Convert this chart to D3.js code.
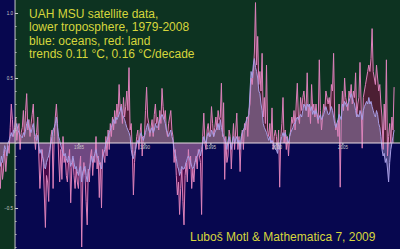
<!DOCTYPE html>
<html>
<head>
<meta charset="utf-8">
<script src="https://d3js.org/d3.v7.min.js"></script>
<style>
  body { margin: 0; background: #000; }
  svg { display: block; }
  text { font-family: "Liberation Sans", Arial, sans-serif; }
</style>
</head>
<body>
<svg id="chart" width="400" height="249"></svg>
<script>
// monthly anomalies (deg C), Jan 1979 .. Dec 2008
var land = [
  -0.25,-0.35,-0.15,-0.28,-0.20,-0.05,-0.22,-0.10,-0.02,-0.08, 0.12, 0.30, // 1979
   0.18, 0.05, 0.12, 0.20, 0.02, 0.10, 0.15,-0.05, 0.08, 0.12, 0.25, 0.05, // 1980
   0.25, 0.38, 0.10, 0.18, 0.05, 0.15, 0.22, 0.30, 0.05,-0.05, 0.08, 0.20, // 1981
  -0.10,-0.35,-0.20,-0.05,-0.15,-0.40,-0.65,-0.25,-0.30,-0.45,-0.10, 0.05, // 1982
   0.10,-0.35, 0.05, 0.20, 0.30, 0.15,-0.10,-0.30,-0.05,-0.28, 0.05,-0.15, // 1983
  -0.10,-0.25,-0.30,-0.15,-0.05,-0.46,-0.20,-0.12,-0.25,-0.35,-0.20,-0.30, // 1984
  -0.35,-0.20,-0.10,-0.80,-0.30,-0.15,-0.25,-0.45,-0.63,-0.20,-0.30,-0.10, // 1985
  -0.05,-0.25,-0.10,-0.15, 0.05,-0.20,-0.10,-0.42,-0.15,-0.50,-0.05,-0.10, // 1986
  -0.15, 0.05,-0.10, 0.10,-0.05, 0.15, 0.05, 0.20, 0.10, 0.25, 0.15, 0.30, // 1987
   0.20, 0.45, 0.25, 0.30, 0.15, 0.35, 0.20, 0.28, 0.40, 0.25, 0.58, 0.10, // 1988
   0.15,-0.05,-0.40,-0.15,-0.05, 0.05, 0.10,-0.05, 0.08, 0.15,-0.10, 0.05, // 1989
   0.05, 0.25, 0.43, 0.20, 0.15, 0.05, 0.12, 0.18, 0.05, 0.22, 0.30, 0.15, // 1990
   0.20, 0.10, 0.25, 0.15, 0.42, 0.28, 0.18, 0.25, 0.10, 0.05, 0.15, 0.20, // 1991
   0.25, 0.10, 0.05,-0.15,-0.05,-0.25,-0.40,-0.30,-0.55,-0.35,-0.20,-0.45, // 1992
  -0.63,-0.25,-0.15,-0.30,-0.05,-0.20,-0.10,-0.35,-0.20,-0.30,-0.15,-0.10, // 1993
  -0.20,-0.05,-0.10,-0.15,-0.55, 0.05, 0.23, 0.00,-0.05, 0.10, 0.15, 0.05, // 1994
   0.10, 0.28, 0.15, 0.05, 0.12, 0.20, 0.10, 0.25, 0.18, 0.20, 0.46, 0.05, // 1995
   0.31,-0.28, 0.05,-0.15,-0.10, 0.10, 0.05,-0.20, 0.00, 0.15,-0.05, 0.10, // 1996
   0.23,-0.05, 0.05,-0.22, 0.02, 0.10,-0.05, 0.15, 0.10, 0.20, 0.05, 0.25, // 1997
   0.30, 0.50, 0.45, 0.55, 0.70, 1.08, 0.60, 0.82, 0.45, 0.55, 0.40, 0.69, // 1998
   0.20, 0.35, 0.15, 0.60, 0.10, 0.05, 0.15, 0.00, 0.27,-0.05, 0.05, 0.10, // 1999
   0.05,-0.05, 0.10,-0.34, 0.05, 0.15, 0.35, 0.00, 0.10,-0.05, 0.05,-0.10, // 2000
   0.05, 0.10, 0.20, 0.15, 0.25, 0.10, 0.30, 0.46, 0.20, 0.15, 0.35, 0.25, // 2001
   0.35, 0.40, 0.30, 0.25, 0.54, 0.20, 0.30, 0.15, 0.45, 0.25, 0.30, 0.20, // 2002
   0.30, 0.20, 0.15, 0.64, 0.25, 0.10, 0.20, 0.30, 0.25, 0.40, 0.35, 0.30, // 2003
   0.35, 0.25, 0.45, 0.40, 0.69, 0.20, 0.10, 0.15, 0.05, 0.30,-0.34, 0.20, // 2004
   0.40, 0.25, 0.50, 0.35, 0.30, 0.25, 0.40, 0.35, 0.45, 0.30, 0.40, 0.35, // 2005
   0.54, 0.20, 0.30, 0.35, 0.62, 0.30,-0.04, 0.35, 0.40, 0.45, 0.50, 0.55, // 2006
   0.60, 0.55, 0.65, 0.88, 0.55, 0.50, 0.45, 0.60, 0.50, 0.40, 0.45, 0.30, // 2007
   0.20,-0.05, 0.30, 0.10, 0.64,-0.10, 0.05, 0.15, 0.00, 0.20, 0.10, 0.43  // 2008
];
var oceans = [
  -0.12,-0.18,-0.10,-0.15,-0.08,-0.02,-0.05,-0.10, 0.00, 0.02, 0.05, 0.08, // 1979
   0.05, 0.10, 0.08, 0.12, 0.15, 0.10, 0.08, 0.06, 0.05, 0.04, 0.08, 0.06, // 1980
   0.10, 0.15, 0.18, 0.12, 0.10, 0.08, 0.12, 0.15, 0.08, 0.05, 0.02, 0.06, // 1981
  -0.02,-0.08,-0.05,-0.10,-0.12,-0.18,-0.20,-0.15,-0.12,-0.10,-0.05, 0.00, // 1982
   0.05, 0.10, 0.12, 0.15, 0.20, 0.12, 0.05, 0.02,-0.02,-0.05,-0.08,-0.10, // 1983
  -0.08,-0.12,-0.15,-0.10,-0.12,-0.18,-0.15,-0.10,-0.15,-0.20,-0.18,-0.22, // 1984
  -0.25,-0.20,-0.18,-0.30,-0.22,-0.20,-0.18,-0.25,-0.30,-0.22,-0.20,-0.15, // 1985
  -0.10,-0.15,-0.12,-0.08,-0.05,-0.10,-0.12,-0.15,-0.18,-0.20,-0.10,-0.08, // 1986
  -0.05, 0.00, 0.02, 0.05, 0.08, 0.10, 0.12, 0.15, 0.18, 0.15, 0.20, 0.18, // 1987
   0.20, 0.22, 0.25, 0.28, 0.22, 0.20, 0.18, 0.15, 0.12, 0.10, 0.08, 0.05, // 1988
  -0.05,-0.10,-0.12,-0.08,-0.05, 0.00, 0.02, 0.00, 0.05, 0.08, 0.05, 0.02, // 1989
   0.05, 0.08, 0.12, 0.15, 0.10, 0.08, 0.10, 0.12, 0.08, 0.10, 0.15, 0.12, // 1990
   0.12, 0.15, 0.18, 0.20, 0.22, 0.20, 0.18, 0.15, 0.10, 0.08, 0.05, 0.08, // 1991
   0.10, 0.05, 0.02,-0.05,-0.08,-0.12,-0.18,-0.20,-0.25,-0.22,-0.18,-0.20, // 1992
  -0.20,-0.18,-0.15,-0.12,-0.10,-0.12,-0.15,-0.18,-0.20,-0.18,-0.15,-0.12, // 1993
  -0.10,-0.08,-0.05,-0.10,-0.05, 0.00, 0.05, 0.02, 0.00, 0.05, 0.08, 0.05, // 1994
   0.05, 0.10, 0.08, 0.05, 0.08, 0.10, 0.12, 0.15, 0.10, 0.18, 0.12, 0.08, // 1995
   0.05, 0.02, 0.00,-0.05, 0.02, 0.05, 0.00,-0.05, 0.02, 0.05, 0.00, 0.03, // 1996
   0.05, 0.00, 0.02,-0.05, 0.05, 0.08, 0.10, 0.12, 0.15, 0.18, 0.20, 0.22, // 1997
   0.40, 0.55, 0.50, 0.60, 0.65, 0.58, 0.55, 0.50, 0.40, 0.38, 0.30, 0.25, // 1998
   0.15, 0.12, 0.10, 0.08, 0.05, 0.02, 0.05, 0.00, 0.02, 0.00,-0.02,-0.05, // 1999
  -0.05,-0.08, 0.00,-0.05, 0.02, 0.05, 0.08, 0.05, 0.08, 0.05, 0.02, 0.00, // 2000
   0.05, 0.08, 0.10, 0.12, 0.15, 0.15, 0.18, 0.20, 0.18, 0.20, 0.22, 0.20, // 2001
   0.25, 0.30, 0.28, 0.25, 0.30, 0.28, 0.30, 0.25, 0.28, 0.22, 0.25, 0.22, // 2002
   0.25, 0.22, 0.18, 0.20, 0.22, 0.18, 0.20, 0.22, 0.25, 0.28, 0.25, 0.22, // 2003
   0.22, 0.25, 0.28, 0.25, 0.20, 0.15, 0.12, 0.15, 0.18, 0.22, 0.20, 0.18, // 2004
   0.30, 0.28, 0.32, 0.30, 0.28, 0.30, 0.32, 0.35, 0.38, 0.35, 0.32, 0.30, // 2005
   0.25, 0.20, 0.22, 0.20, 0.25, 0.22, 0.18, 0.25, 0.28, 0.30, 0.32, 0.30, // 2006
   0.35, 0.30, 0.32, 0.28, 0.25, 0.22, 0.20, 0.25, 0.22, 0.15, 0.12, 0.05, // 2007
  -0.05,-0.10,-0.08,-0.15,-0.12,-0.20,-0.30,-0.15,-0.05, 0.00, 0.05, 0.10  // 2008
];
var startYear = 1979;
var yearTicks = [1985, 1990, 1995, 2000, 2005];
var yMajorTicks = [-0.5, 0.5, 1.0];
var titleLines = [
  "UAH MSU satellite data,",
  "lower troposphere, 1979-2008",
  "blue: oceans, red: land",
  "trends 0.11 \u00b0C, 0.16 \u00b0C/decade"
];
var credit = "Lubo\u0161 Motl & Mathematica 7, 2009";

var svg = d3.select("#chart");
var W = 400, H = 249;

var x = d3.scaleLinear().domain([1979, 2009]).range([-0.8, 395.2]);
var y = d3.scaleLinear().domain([-1, 1]).range([143 + 130, 143 - 130]);
var axisX = x(1980.2), zeroY = y(0);

var green = "#0d3321", blue = "#07074f";

// background: swapped colours left of the vertical axis
svg.append("rect").attr("x", 0).attr("y", 0).attr("width", axisX).attr("height", zeroY).attr("fill", blue);
svg.append("rect").attr("x", 0).attr("y", zeroY).attr("width", axisX).attr("height", H - zeroY).attr("fill", green);
svg.append("rect").attr("x", axisX).attr("y", 0).attr("width", W - axisX).attr("height", zeroY).attr("fill", green);
svg.append("rect").attr("x", axisX).attr("y", zeroY).attr("width", W - axisX).attr("height", H - zeroY).attr("fill", blue);

var t = (d, i) => x(startYear + i / 12);
var area = d3.area().x(t).y0(zeroY).y1(d => y(d));
var line = d3.line().x(t).y(d => y(d));

svg.append("path").attr("d", area(land)).attr("fill", "rgb(140,12,70)").attr("fill-opacity", 0.5);
svg.append("path").attr("d", area(oceans)).attr("fill", "rgb(150,135,185)").attr("fill-opacity", 0.5);
svg.append("path").attr("d", line(land)).attr("fill", "none").attr("stroke", "#dc82bb").attr("stroke-width", 1);
svg.append("path").attr("d", line(oceans)).attr("fill", "none").attr("stroke", "#a89ee6").attr("stroke-width", 1);

// zero line across everything
svg.append("line").attr("x1", 0).attr("x2", W).attr("y1", zeroY).attr("y2", zeroY)
  .attr("stroke", "#eadbe4").attr("stroke-width", 1);

// x axis ticks along the zero line
var xAxis = svg.append("g").attr("transform", "translate(0," + zeroY + ")")
  .call(d3.axisBottom(x).tickValues(yearTicks).tickFormat(d3.format("d")).tickSize(2).tickPadding(1));
xAxis.select(".domain").remove();
xAxis.selectAll("line").attr("stroke", "#ddd");
xAxis.selectAll("text").attr("fill", "#ccc").style("font-size", "4.5px");

// y axis
svg.append("line").attr("x1", axisX).attr("x2", axisX).attr("y1", 0).attr("y2", H)
  .attr("stroke", "#c8c8c8").attr("stroke-width", 1);
var yMinor = svg.append("g").attr("transform", "translate(" + axisX + ",0)")
  .call(d3.axisLeft(y).tickValues(d3.range(-11, 11).map(k => k / 10)).tickFormat("").tickSize(-1.5));
yMinor.select(".domain").remove();
yMinor.selectAll("line").attr("stroke", "#bbb");
var yAxis = svg.append("g").attr("transform", "translate(" + axisX + ",0)")
  .call(d3.axisLeft(y).tickValues(yMajorTicks).tickFormat(d3.format(".1f")).tickSize(-3).tickPadding(2));
yAxis.select(".domain").remove();
yAxis.selectAll("line").attr("stroke", "#ccc");
yAxis.selectAll("text").attr("fill", "#ccc").style("font-size", "4.5px");

// annotations
svg.append("g").selectAll("text").data(titleLines).join("text")
  .attr("x", 29).attr("y", (d, i) => 17.8 + i * 13.4)
  .attr("fill", "#d6d63c").style("font-size", "12px")
  .text(d => d);
svg.append("text").attr("x", 190).attr("y", 240.5)
  .attr("fill", "#d6d63c").style("font-size", "12px")
  .text(credit);
</script>
</body>
</html>
